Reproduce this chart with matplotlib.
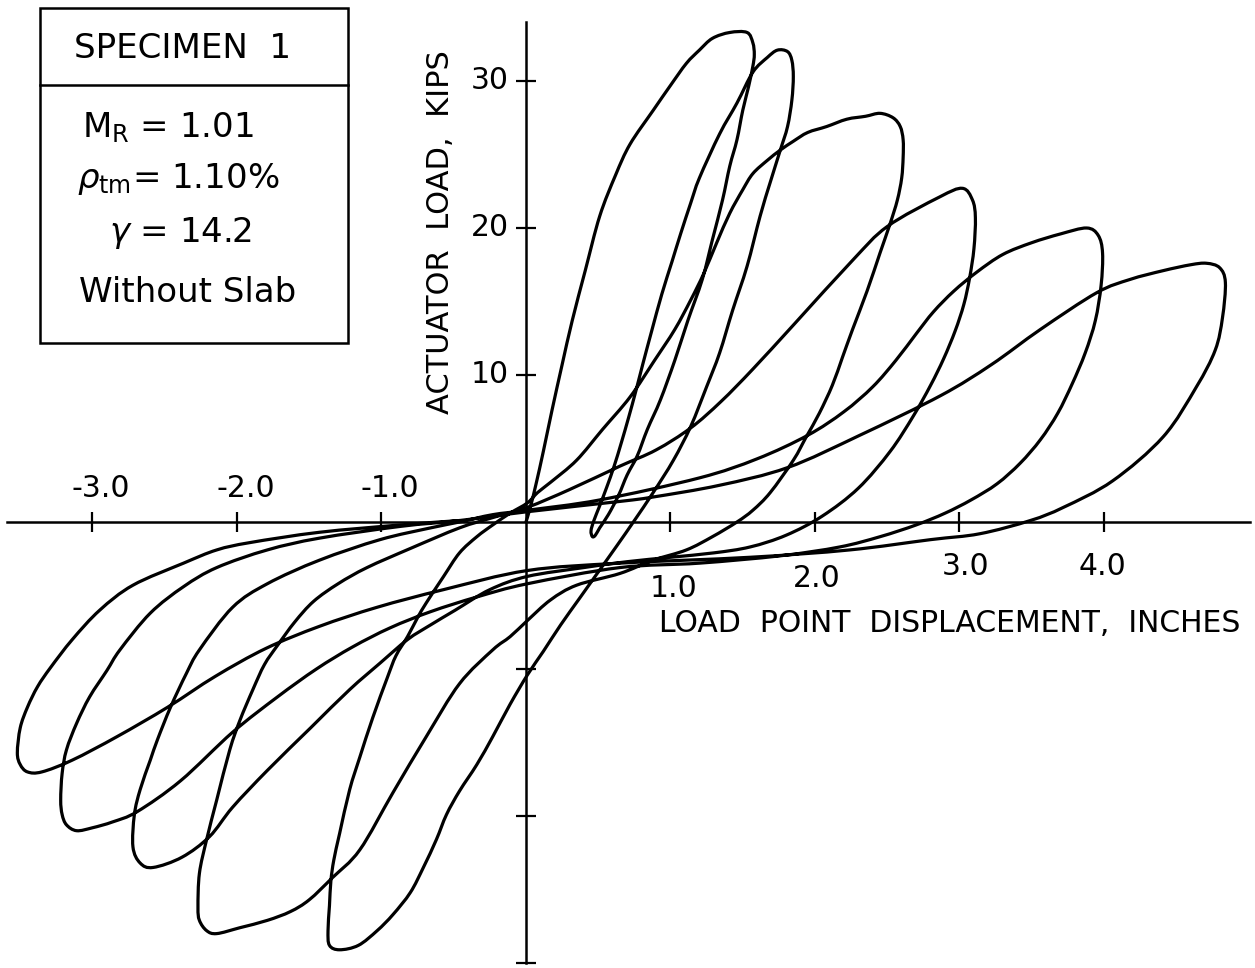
import numpy as np
import matplotlib.pyplot as plt
from matplotlib.patches import Rectangle, PathPatch
from matplotlib.path import Path

# Load history, split into half cycles: displacement (in) and actuator load (kips)
x1 = [0.00, 0.03, 0.07, 0.12, 0.18, 0.25, 0.32, 0.41, 0.51, 0.62, 0.72, 0.88, 1.00, 1.11, 1.20, 1.29, 1.41, 1.53, 1.57, 1.58, 1.57]
y1 = [0.0, 1.0, 2.6, 4.8, 7.6, 10.7, 13.7, 17.1, 20.8, 23.6, 25.7, 28.0, 29.7, 31.2, 32.1, 32.9, 33.3, 33.3, 32.6, 31.8, 31.0]

x2 = [1.57, 1.54, 1.50, 1.46, 1.41, 1.36, 1.29, 1.22, 1.12, 1.03, 0.93, 0.84, 0.77, 0.70, 0.64, 0.57, 0.51, 0.48, 0.46]
y2 = [31.0, 29.6, 28.0, 26.0, 24.2, 21.9, 19.2, 16.5, 13.7, 11.0, 8.3, 6.3, 4.5, 3.2, 1.8, 0.5, -0.4, -0.9, -1.0]

x3 = [0.46, 0.45, 0.47, 0.51, 0.56, 0.61, 0.66, 0.71, 0.76, 0.81, 0.87, 0.94, 1.01, 1.07, 1.14, 1.20, 1.34, 1.46, 1.57, 1.67, 1.74, 1.81, 1.84, 1.85]
y3 = [-1.0, -0.6, 0.1, 1.1, 2.4, 3.8, 5.4, 7.1, 8.9, 10.8, 13.0, 15.5, 17.7, 19.6, 21.7, 23.4, 26.4, 28.5, 30.6, 31.6, 32.1, 32.0, 31.4, 30.3]

x4 = [1.85, 1.84, 1.81, 1.76, 1.69, 1.62, 1.53, 1.43, 1.34, 1.25, 1.14, 1.02, 0.88, 0.75, 0.63, 0.50, 0.37, 0.24, 0.12, 0.01,
      -0.11, -0.23, -0.34, -0.46, -0.55, -0.62, -0.71, -0.80, -0.92, -1.03, -1.16, -1.29, -1.36, -1.37]
y4 = [30.3, 28.7, 26.9, 25.3, 23.1, 20.8, 17.4, 14.4, 11.5, 9.2, 6.5, 4.2, 2.0, 0.1, -1.6, -3.4, -5.2, -7.0, -8.8, -10.4,
      -12.4, -14.6, -16.5, -18.3, -19.9, -21.6, -23.5, -25.2, -26.7, -27.8, -28.8, -29.1, -28.8, -27.8]

x5 = [-1.37, -1.36, -1.35, -1.33, -1.29, -1.22, -1.15, -1.06, -0.96, -0.90, -0.82, -0.75, -0.69, -0.57, -0.46, -0.34, -0.23,
      -0.11, 0.01, 0.08, 0.17, 0.35, 0.53, 0.72, 0.89, 1.03, 1.14, 1.23, 1.32, 1.41, 1.50, 1.57, 1.67, 1.76, 1.85, 1.95, 2.08,
      2.22, 2.35, 2.45, 2.54, 2.59, 2.61, 2.61]
y5 = [-27.8, -26.1, -24.4, -23.0, -21.2, -18.2, -16.0, -13.3, -10.6, -9.1, -7.8, -6.5, -5.5, -3.7, -2.1, -1.0, -0.2,
      0.6, 1.3, 2.0, 2.7, 4.2, 6.3, 8.5, 11.0, 13.1, 15.1, 16.9, 19.0, 21.0, 22.6, 23.7, 24.6, 25.3, 25.9, 26.5, 26.9,
      27.4, 27.6, 27.8, 27.5, 26.9, 26.0, 24.8]

x6 = [2.61, 2.60, 2.57, 2.52, 2.45, 2.36, 2.26, 2.19, 2.12, 2.03, 1.94, 1.85, 1.69, 1.57, 1.46, 1.29, 1.11, 0.88, 0.65,
      0.35, 0.17, 0.01, -0.11, -0.23, -0.46, -0.69, -0.92, -1.15, -1.34, -1.50, -1.63, -1.79, -1.98, -2.14, -2.21, -2.26, -2.27]
y6 = [24.8, 23.4, 21.9, 20.3, 18.3, 15.7, 13.1, 11.2, 9.3, 7.4, 5.8, 4.2, 2.0, 0.8, 0.0, -1.0, -1.9, -2.6, -3.5,
      -4.3, -5.3, -6.7, -7.8, -8.7, -11.0, -14.6, -18.4, -22.3, -24.2, -25.7, -26.5, -27.1, -27.6, -28.0, -27.8, -27.1, -26.2]

x7 = [-2.27, -2.26, -2.21, -2.14, -2.05, -1.98, -1.89, -1.81, -1.72, -1.60, -1.47, -1.30, -1.10, -0.80, -0.46, -0.23, 0.01,
      0.30, 0.65, 0.90, 1.14, 1.35, 1.57, 1.86, 2.26, 2.50, 2.86, 3.02, 3.09, 3.11]
y7 = [-26.2, -23.9, -21.6, -18.9, -15.5, -13.5, -11.4, -9.7, -8.4, -6.8, -5.4, -4.2, -3.1, -1.8, -0.4, 0.3, 1.0,
      2.2, 3.8, 4.9, 6.4, 8.2, 10.4, 13.5, 17.8, 20.1, 22.1, 22.7, 21.9, 20.7]

x8 = [3.11, 3.10, 3.07, 3.03, 2.97, 2.89, 2.80, 2.68, 2.52, 2.30, 2.05, 1.80, 1.55, 1.30, 1.00, 0.70, 0.40, 0.01,
      -0.25, -0.49, -0.66, -0.82, -1.01, -1.22, -1.49, -1.79, -2.03, -2.19, -2.38, -2.58, -2.67, -2.72]
y8 = [20.7, 18.6, 16.6, 14.8, 13.0, 11.1, 9.3, 7.2, 4.8, 2.3, 0.4, -0.9, -1.7, -2.1, -2.4, -2.7, -3.1, -3.7,
      -4.6, -6.0, -7.0, -8.0, -9.6, -11.4, -14.0, -16.9, -19.4, -21.4, -22.8, -23.5, -23.2, -22.1]

x9 = [-2.72, -2.71, -2.67, -2.60, -2.55, -2.46, -2.35, -2.26, -2.03, -1.79, -1.43, -1.01, -0.66, -0.46, -0.23, 0.01,
      0.51, 1.20, 1.60, 1.95, 2.20, 2.40, 2.56, 2.70, 2.82, 2.96, 3.12, 3.30, 3.50, 3.70, 3.88, 3.96, 3.99]
y9 = [-22.1, -19.9, -18.2, -16.2, -14.8, -12.6, -10.3, -8.7, -5.8, -4.2, -2.6, -1.2, -0.4, 0.0, 0.5, 0.8,
      1.5, 3.0, 4.3, 5.9, 7.5, 9.2, 11.0, 12.8, 14.3, 15.7, 17.0, 18.2, 19.0, 19.6, 20.0, 19.5, 18.3]

x10 = [3.99, 3.98, 3.94, 3.87, 3.78, 3.68, 3.56, 3.42, 3.26, 3.08, 2.90, 2.70, 2.45, 2.17, 1.76, 1.20, 0.65, 0.01, -0.34,
       -0.66, -0.94, -1.20, -1.45, -1.72, -2.03, -2.39, -2.69, -2.86, -3.00, -3.11, -3.18, -3.21, -3.22]
y10 = [18.3, 16.1, 13.7, 11.5, 9.4, 7.4, 5.6, 4.0, 2.6, 1.5, 0.6, -0.2, -1.0, -1.7, -2.3, -2.8, -3.1, -4.2, -5.1,
       -6.1, -7.2, -8.5, -10.0, -11.9, -14.3, -17.6, -19.7, -20.4, -20.8, -21.0, -20.6, -19.9, -18.9]

x11 = [-3.22, -3.21, -3.18, -3.11, -3.02, -2.90, -2.81, -2.60, -2.37, -2.14, -1.79, -1.43, -0.87, -0.46, 0.01, 0.65,
       0.88, 1.34, 1.81, 2.31, 2.87, 3.22, 3.56, 3.95, 4.18, 4.41, 4.60, 4.71, 4.80, 4.84, 4.82]
y11 = [-18.9, -17.1, -15.5, -13.7, -11.9, -10.1, -8.7, -6.2, -4.4, -3.1, -1.9, -1.1, -0.3, 0.1, 0.7, 1.4,
       1.7, 2.5, 3.7, 5.9, 8.6, 10.7, 13.1, 15.6, 16.5, 17.1, 17.5, 17.6, 17.3, 16.3, 13.9]

x12 = [4.82, 4.77, 4.64, 4.41, 4.06, 3.72, 3.49, 3.14, 2.80, 2.24, 1.55, 0.65, 0.01, -0.57, -1.03, -1.43, -1.80,
       -2.15, -2.48, -2.83, -3.14, -3.35, -3.45, -3.50, -3.52]
y12 = [13.9, 11.7, 9.2, 5.8, 2.8, 1.0, 0.1, -0.8, -1.2, -1.9, -2.4, -2.8, -3.3, -4.6, -5.8, -7.1, -8.6,
       -10.5, -12.6, -14.6, -16.2, -17.0, -17.0, -16.5, -15.7]

x13 = [-3.52, -3.50, -3.45, -3.38, -3.29, -3.14, -2.95, -2.72, -2.37, -2.14, -1.91, -1.43, -0.87, -0.46]
y13 = [-15.7, -14.0, -12.6, -11.2, -9.9, -8.0, -6.0, -4.3, -2.8, -1.9, -1.4, -0.7, -0.2, 0.1]

branches = [(x1, y1), (x2, y2), (x3, y3), (x4, y4), (x5, y5), (x6, y6), (x7, y7),
            (x8, y8), (x9, y9), (x10, y10), (x11, y11), (x12, y12), (x13, y13)]

x_ticks = [-3, -2, -1, 1, 2, 3, 4]
y_ticks = [-30, -20, -10, 10, 20, 30]
x_tick_labels = ["-3.0", "-2.0", "-1.0", "1.0", "2.0", "3.0", "4.0"]
y_tick_labels = ["30", "20", "10"]


def smooth_path(xs, ys):
    # Catmull-Rom curve through the recorded points, as cubic Bezier segments
    p = np.column_stack([xs, ys]).astype(float)
    ext = np.vstack([p[0], p, p[-1]])
    verts = [p[0]]
    codes = [Path.MOVETO]
    for i in range(len(p) - 1):
        a, b, c, d = ext[i], ext[i + 1], ext[i + 2], ext[i + 3]
        verts += [b + (c - a) / 6, c - (d - b) / 6, c]
        codes += [Path.CURVE4] * 3
    return Path(verts, codes)


# join the half cycles into one continuous record
hist_x, hist_y = list(x1), list(y1)
for bx, by in branches[1:]:
    hist_x += bx[1:]
    hist_y += by[1:]

plt.rcParams["font.family"] = "DejaVu Sans"
plt.rcParams["mathtext.fontset"] = "dejavusans"

fig = plt.figure(figsize=(12.55, 9.68), dpi=100)
ax = fig.add_axes([0, 0, 1, 1])
ax.set_xlim(-3.640, 5.045)
ax.set_ylim(-30.34, 35.51)

ax.add_patch(PathPatch(smooth_path(hist_x, hist_y), fill=False, edgecolor="black",
                       lw=2.3, joinstyle="round", capstyle="round"))

# axes crossing at the origin
ax.spines[["top", "right"]].set_visible(False)
ax.spines["left"].set_position(("data", 0))
ax.spines["bottom"].set_position(("data", 0))
ax.spines["bottom"].set_bounds(-3.59, 5.01)
ax.spines["left"].set_bounds(-30, 34)
for s in ["left", "bottom"]:
    ax.spines[s].set_linewidth(1.8)

ax.set_xticks(x_ticks)
ax.set_yticks(y_ticks)
ax.tick_params(direction="inout", length=14, width=1.6, labelbottom=False, labelleft=False)

fs = 21.5
for v, lab in zip(x_ticks, x_tick_labels):
    if v < 0:
        ax.text(v + 0.06, 1.7, lab, ha="center", va="baseline", fontsize=fs)
ax.text(1.02, -5.1, "1.0", ha="center", va="baseline", fontsize=fs)
ax.text(2.01, -4.42, "2.0", ha="center", va="baseline", fontsize=fs)
ax.text(3.04, -3.61, "3.0", ha="center", va="baseline", fontsize=fs)
ax.text(3.99, -3.61, "4.0", ha="center", va="baseline", fontsize=fs)

for v, lab in zip([30, 20, 10], y_tick_labels):
    ax.text(-0.12, v, lab, ha="right", va="center", fontsize=fs)

ax.text(2.93, -7.48, "LOAD  POINT  DISPLACEMENT,  INCHES", ha="center", va="baseline", fontsize=21.5)
ax.text(-0.595, 19.73, "ACTUATOR  LOAD,  KIPS", ha="center", va="center", rotation=90, fontsize=22)

# specimen box
ax.add_patch(Rectangle((-3.363, 12.18), 2.131, 22.79, fill=False, lw=1.8, color="black"))
ax.plot([-3.363, -1.232], [29.73, 29.73], color="black", lw=1.8)
bfs = 24.5
ax.text(-2.38, 31.56, "SPECIMEN  1", ha="center", va="baseline", fontsize=bfs)
ax.text(-2.48, 26.19, r"$\mathrm{M_R}$ = 1.01", ha="center", va="baseline", fontsize=bfs)
ax.text(-2.41, 22.72, r"$\rho_{\mathrm{tm}}$= 1.10%", ha="center", va="baseline", fontsize=bfs)
ax.text(-2.39, 19.05, r"$\gamma$ = 14.2", ha="center", va="baseline", fontsize=bfs)
ax.text(-2.34, 14.97, "Without Slab", ha="center", va="baseline", fontsize=bfs)

fig.savefig("out.png", dpi=100)
